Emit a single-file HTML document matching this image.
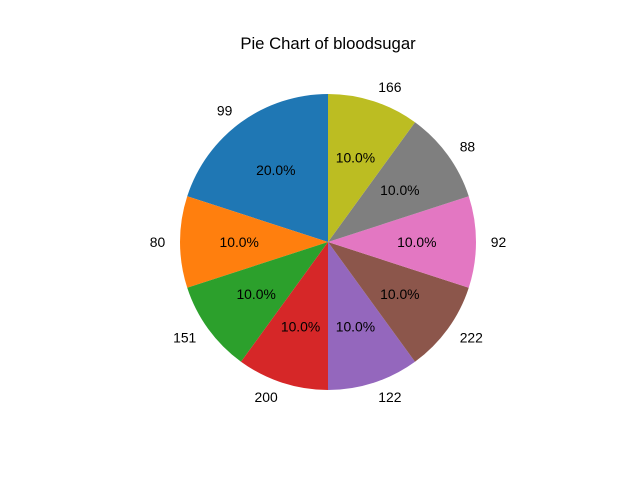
<!DOCTYPE html>
<html><head><meta charset="utf-8"><style>body{margin:0;background:#fff}svg{display:block}text{font-family:"Liberation Sans","DejaVu Sans",sans-serif}</style></head>
<body>
<svg id="chart" width="640" height="480">
<text x="328" y="49" text-anchor="middle" font-size="16.7">Pie Chart of bloodsugar</text>
</svg>
<script>
const labels = ["99","80","151","200","122","222","92","88","166"];
const values = [2,1,1,1,1,1,1,1,1];
const colors = ["#1f77b4","#ff7f0e","#2ca02c","#d62728","#9467bd","#8c564b","#e377c2","#7f7f7f","#bcbd22"];
const svg = document.getElementById('chart');
const ns = "http://www.w3.org/2000/svg";
const cx = 328, cy = 242, r = 148;
const total = values.reduce((a,b)=>a+b,0);
let ang = 90;
values.forEach((v,i)=>{
  const sweep = v/total*360;
  const a0 = ang*Math.PI/180, a1 = (ang+sweep)*Math.PI/180;
  const x0 = cx + r*Math.cos(a0), y0 = cy - r*Math.sin(a0);
  const x1 = cx + r*Math.cos(a1), y1 = cy - r*Math.sin(a1);
  const p = document.createElementNS(ns,'path');
  p.setAttribute('d',`M${cx},${cy} L${x0},${y0} A${r},${r} 0 ${sweep>180?1:0} 0 ${x1},${y1} Z`);
  p.setAttribute('fill',colors[i]);
  
  
  svg.appendChild(p);
  const mid = (ang+sweep/2)*Math.PI/180;
  const lx = cx + 1.1*r*Math.cos(mid), ly = cy - 1.1*r*Math.sin(mid);
  const t = document.createElementNS(ns,'text');
  t.setAttribute('x',lx); t.setAttribute('y',ly+5);
  t.setAttribute('font-size','13.9');
  const c = Math.cos(mid);
  t.setAttribute('text-anchor', Math.abs(c)<1e-6?'middle':(c<0?'end':'start'));
  t.textContent = labels[i];
  
  
  svg.appendChild(t);
  const px = cx + 0.6*r*Math.cos(mid), py = cy - 0.6*r*Math.sin(mid);
  const pt = document.createElementNS(ns,'text');
  pt.setAttribute('x',px); pt.setAttribute('y',py+5);
  pt.setAttribute('font-size','13.9');
  pt.setAttribute('text-anchor','middle');
  pt.textContent = (v/total*100).toFixed(1)+'%';
  
  
  svg.appendChild(pt);
  ang += sweep;
});
</script>
</body></html>
